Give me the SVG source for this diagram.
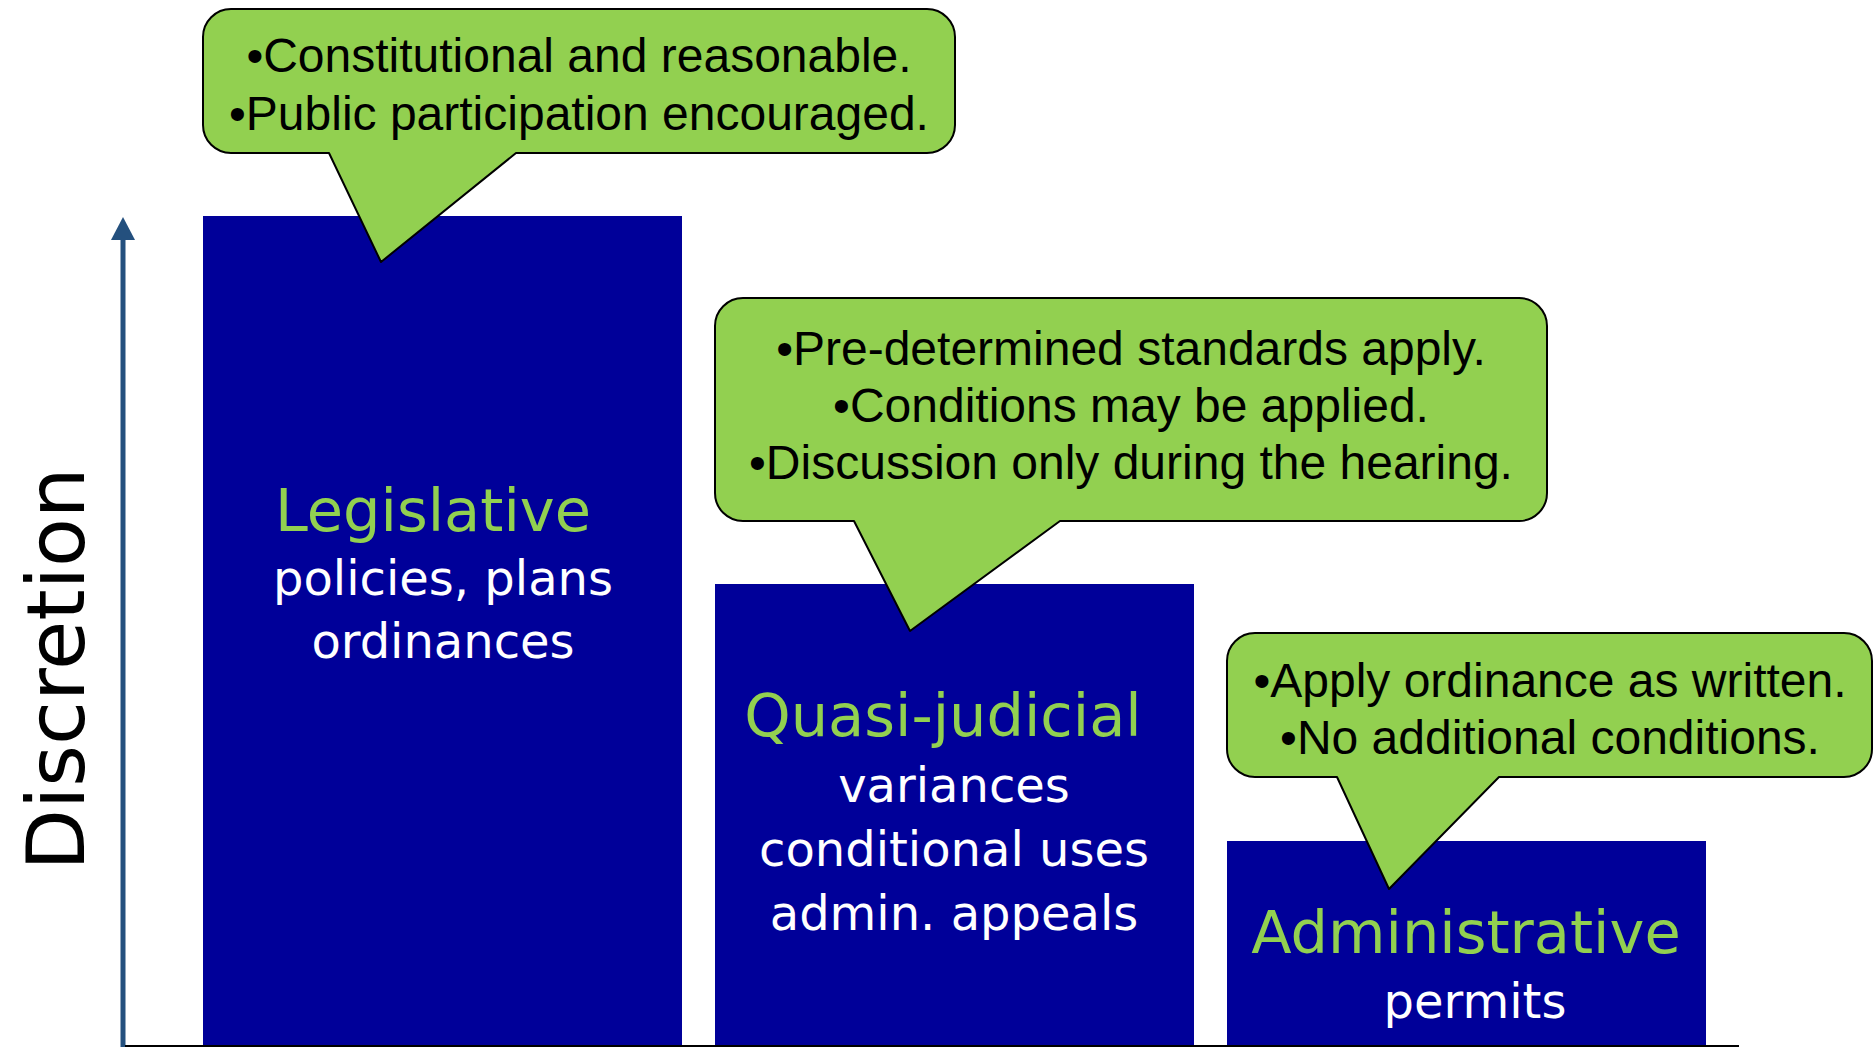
<svg xmlns="http://www.w3.org/2000/svg" width="1874" height="1047" viewBox="0 0 1874 1047">
<style>
.bar{fill:#000099}
.callout{fill:#92D050;stroke:#000;stroke-width:2;stroke-linejoin:round}
.ct{font-family:"Liberation Sans",Arial,sans-serif;font-size:48px;fill:#000;text-anchor:middle}
.title{font-family:"Comic Sans MS","DejaVu Sans",sans-serif;font-size:59px;fill:#92D050;text-anchor:middle}
.sub{font-family:"Comic Sans MS","DejaVu Sans",sans-serif;font-size:48px;fill:#FFFFFF;text-anchor:middle}
.axis{font-family:"Comic Sans MS","DejaVu Sans",sans-serif;font-size:80px;fill:#000;text-anchor:middle}
</style>
<defs>
<marker id="arrowhead" viewBox="0 0 23 24" markerWidth="23" markerHeight="24" refX="5" refY="12" orient="auto" markerUnits="userSpaceOnUse">
<path d="M0,0 L23,12 L0,24 Z" fill="#24507E"/>
</marker>
</defs>
<rect width="1874" height="1047" fill="#FFFFFF"/>

<g id="connectors">
<line x1="123" y1="1047" x2="123" y2="235" stroke="#24507E" stroke-width="5" marker-end="url(#arrowhead)"/>
</g>

<g id="axis-label">
<text class="axis" transform="translate(84,669) rotate(-90)">Discretion</text>
</g>

<g id="legislative">
<rect class="bar" x="203" y="216" width="479" height="831"/>
<text class="title" x="433" y="531">Legislative</text>
<text class="sub" x="443" y="595">policies, plans</text>
<text class="sub" x="443" y="658">ordinances</text>
</g>

<g id="quasi-judicial">
<rect class="bar" x="715" y="584" width="479" height="463"/>
<text class="title" x="943" y="736">Quasi-judicial</text>
<text class="sub" x="954" y="802">variances</text>
<text class="sub" x="954" y="866">conditional uses</text>
<text class="sub" x="954" y="930">admin. appeals</text>
</g>

<g id="administrative">
<rect class="bar" x="1227" y="841" width="479" height="206"/>
<text class="title" x="1466" y="953">Administrative</text>
<text class="sub" x="1475" y="1018">permits</text>
</g>

<g id="baseline">
<line x1="125" y1="1046" x2="1739" y2="1046" stroke="#000" stroke-width="2"/>
</g>

<g id="callout-legislative">
<path class="callout" d="M231,9 H927 A28,28 0 0 1 955,37 V125 A28,28 0 0 1 927,153 H516 L381,262 L329,153 H231 A28,28 0 0 1 203,125 V37 A28,28 0 0 1 231,9 Z"/>
<text class="ct" x="579" y="72">•Constitutional and reasonable.</text>
<text class="ct" x="579" y="130">•Public participation encouraged.</text>
</g>

<g id="callout-quasi">
<path class="callout" d="M743,298 H1519 A28,28 0 0 1 1547,326 V493 A28,28 0 0 1 1519,521 H1060 L910,631 L854,521 H743 A28,28 0 0 1 715,493 V326 A28,28 0 0 1 743,298 Z"/>
<text class="ct" x="1131" y="365">•Pre-determined standards apply.</text>
<text class="ct" x="1131" y="422">•Conditions may be applied.</text>
<text class="ct" x="1131" y="479">•Discussion only during the hearing.</text>
</g>

<g id="callout-administrative">
<path class="callout" d="M1255,633 H1844 A28,28 0 0 1 1872,661 V749 A28,28 0 0 1 1844,777 H1499 L1389,889 L1337,777 H1255 A28,28 0 0 1 1227,749 V661 A28,28 0 0 1 1255,633 Z"/>
<text class="ct" x="1550" y="697">•Apply ordinance as written.</text>
<text class="ct" x="1550" y="754">•No additional conditions.</text>
</g>
</svg>
